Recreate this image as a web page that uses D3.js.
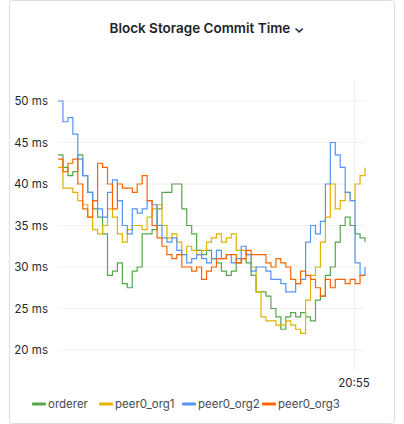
<!DOCTYPE html>
<html><head><meta charset="utf-8">
<script src="https://cdn.jsdelivr.net/npm/d3@7"></script>
<style>body{margin:0;background:#fff;font-family:Inter,Roboto,sans-serif}</style>
</head><body>
<script>
const seriesNames = ["orderer", "peer0_org1", "peer0_org2", "peer0_org3"];
const colors = ["#56a64b", "#e0b400", "#5794f2", "#fa6400"];
const yTicks = [20, 25, 30, 35, 40, 45, 50];
const xTickLabel = "20:55";

const orderer = [43.5,42,41,41.5,43.5,41,39,37,36,34,29,29.5,30.5,28,27.5,29.5,30,34,34,34.5,37,39,39,40,40,37,35,34,32,31.5,32,31,30.5,29.5,29,29.5,30.5,31,30.5,29,27,27,26.5,25,24,22.5,24,24.5,24,24.5,24,23.5,26,26.5,29,30,33,35,36,35,34,33.5,33];
const peer0_org1 = [42,39.5,39.5,39,38,37.5,36,34.5,34,35,37,36,34,33,34.5,35,35,34.5,36,37,37.5,35,33.5,34,33,31.5,32.5,32,31.5,32,33,33.5,34,33,33.5,34,32,32,31.5,30,27,24,23.5,23.5,23,23,23.5,23,22.5,22,26,29,30,33,36,40,37,38,39,38,40,41,42];
const peer0_org2 = [50,47.5,48,46,43,41,39,38,37,36,39,40.5,38,35,34,37,36.5,37,38,37.5,35,33.5,33,33.5,32,31.5,30.5,31,31.5,31,30.5,31,32,31,31.5,30.5,31,32.5,31.5,29.5,30,30,29.5,28.5,28.5,28,27,27,28,28.5,33,35,34,35.5,40,45,43.5,42,39,38,30.5,29,30];
const peer0_org3 = [43,41.5,42.5,43,40,37,36,38,42.5,42,40,37,40,39.5,39.5,39,40,41,38,35,33.5,32.5,31.5,31,31.5,30,30,29.5,30,28.5,29.5,30,31,31,31.5,31.5,30.5,31,32,31.5,31.5,31.5,30.5,30,31,30.5,30,28.5,28,29.5,29,28.5,27.5,26.5,28.5,27.5,28.5,28.5,28,28.5,28,29,29];
const data = [orderer, peer0_org1, peer0_org2, peer0_org3];

const W = 404, H = 424;
const svg = d3.select("body").append("svg").attr("width", W).attr("height", H);
svg.append("rect").attr("x", 9.5).attr("y", 0.5).attr("width", 385).attr("height", H - 1)
  .attr("rx", 3).attr("fill", "#fff").attr("stroke", "#dcdee1");

svg.append("text").attr("x", 207).attr("y", 33).attr("text-anchor", "middle")
  .attr("font-size", 13.5).attr("font-weight", 600).attr("fill", "#1f2328")
  .text("Block Storage Commit Time \u2304");

const y = d3.scaleLinear().domain([20, 50]).range([350, 101]);
const x0 = 58, x1 = 365;

// grid
svg.append("g").selectAll("line").data(yTicks).join("line")
  .attr("x1", x0).attr("x2", x1).attr("y1", d => y(d)).attr("y2", d => y(d))
  .attr("stroke", "#f0f0f0");
svg.append("g").selectAll("text").data(yTicks).join("text")
  .attr("x", 48).attr("y", d => y(d) + 4).attr("text-anchor", "end")
  .attr("font-size", 11.5).attr("fill", "#24292e").text(d => d + " ms");

svg.append("line").attr("x1", 354.5).attr("x2", 354.5).attr("y1", 80).attr("y2", 370).attr("stroke", "#f0f0f0");
svg.append("text").attr("x", 354).attr("y", 387).attr("text-anchor", "middle")
  .attr("font-size", 11.5).attr("fill", "#24292e").text(xTickLabel);

data.forEach((s, i) => {
  const x = d3.scaleLinear().domain([0, s.length - 1]).range([x0, x1]);
  const line = d3.line().x((d, j) => x(j)).y(d => y(d)).curve(d3.curveStepAfter);
  svg.append("path").datum(s).attr("d", line).attr("fill", "none")
    .attr("stroke", colors[i]).attr("stroke-width", 1.2);
});

// legend
const lx = [32, 99, 182, 262];
const lg = svg.append("g").selectAll("g").data(seriesNames).join("g")
  .attr("transform", (d, i) => `translate(${lx[i]},404)`);
lg.append("rect").attr("x", 0).attr("y", -1.5).attr("width", 14).attr("height", 3).attr("rx", 1)
  .attr("fill", (d, i) => colors[i]);
lg.append("text").attr("x", 16).attr("y", 4).attr("font-size", 11.5).attr("fill", "#464c54").text(d => d);
</script>
</body></html>
